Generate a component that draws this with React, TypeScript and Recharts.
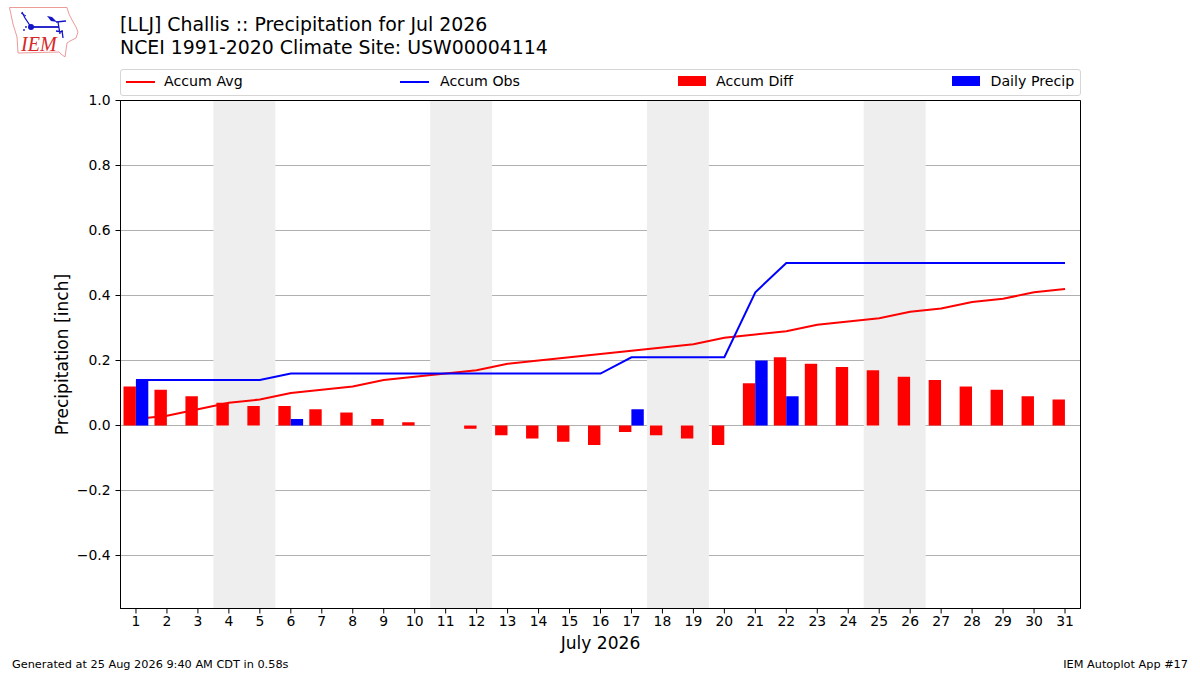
import React from "react";
import {
  ComposedChart, Line, Bar, XAxis, YAxis, CartesianGrid, ReferenceArea, Label,
} from "recharts";

const days = [1,2,3,4,5,6,7,8,9,10,11,12,13,14,15,16,17,18,19,20,21,22,23,24,25,26,27,28,29,30,31];
const accumAvg = [0.02,0.03,0.05,0.07,0.08,0.10,0.11,0.12,0.14,0.15,0.16,0.17,0.19,0.20,0.21,0.22,0.23,0.24,0.25,0.27,0.28,0.29,0.31,0.32,0.33,0.35,0.36,0.38,0.39,0.41,0.42];
const accumObs = [0.14,0.14,0.14,0.14,0.14,0.16,0.16,0.16,0.16,0.16,0.16,0.16,0.16,0.16,0.16,0.16,0.21,0.21,0.21,0.21,0.41,0.50,0.50,0.50,0.50,0.50,0.50,0.50,0.50,0.50,0.50];
const accumDiff = [0.12,0.11,0.09,0.07,0.06,0.06,0.05,0.04,0.02,0.01,0,-0.01,-0.03,-0.04,-0.05,-0.06,-0.02,-0.03,-0.04,-0.06,0.13,0.21,0.19,0.18,0.17,0.15,0.14,0.12,0.11,0.09,0.08];
const dailyPrecip = [0.14,0,0,0,0,0.02,0,0,0,0,0,0,0,0,0,0,0.05,0,0,0,0.20,0.09,0,0,0,0,0,0,0,0,0];
const weekends = [[3.5,5.5],[10.5,12.5],[17.5,19.5],[24.5,26.5]];
const yTicks = [-0.4,-0.2,0,0.2,0.4,0.6,0.8,1.0];
const yMin = -0.563;
const yMax = 1.0;
const xMin = 0.5;
const xMax = 31.5;
const titleLines = ["[LLJ] Challis :: Precipitation for Jul 2026", "NCEI 1991-2020 Climate Site: USW00004114"];
const footerLeft = "Generated at 25 Aug 2026 9:40 AM CDT in 0.58s";
const footerRight = "IEM Autoplot App #17";

const rows = days.map((day, i) => ({
  day,
  avg: accumAvg[i],
  obs: accumObs[i],
  diff: accumDiff[i],
  daily: dailyPrecip[i],
}));

const FONT = "'DejaVu Sans', sans-serif";

const abs = (left: number, top: number, extra: React.CSSProperties = {}): React.CSSProperties => ({
  position: "absolute", left, top, fontFamily: FONT, color: "#000", whiteSpace: "nowrap", ...extra,
});

function LegendBox() {
  const lineItem = (x: number, c: string, label: string, labelX: number) => (
    <React.Fragment key={label}>
      <div style={abs(x, 11, { width: 29, height: 2, background: c })} />
      <div style={abs(labelX, 2, { fontSize: 14.2, lineHeight: "18px" })}>{label}</div>
    </React.Fragment>
  );
  const patchItem = (x: number, c: string, label: string, labelX: number) => (
    <React.Fragment key={label}>
      <div style={abs(x, 6, { width: 28, height: 10, background: c })} />
      <div style={abs(labelX, 2, { fontSize: 14.2, lineHeight: "18px" })}>{label}</div>
    </React.Fragment>
  );
  return (
    <div style={{ position: "absolute", left: 120, top: 69, width: 959, height: 25, border: "1px solid #d5d5d5", borderRadius: 3, background: "#fff" }}>
      {lineItem(5, "#ff0000", "Accum Avg", 43)}
      {lineItem(279, "#0000ff", "Accum Obs", 319)}
      {patchItem(557, "#ff0000", "Accum Diff", 595)}
      {patchItem(831, "#0000ff", "Daily Precip", 869.5)}
    </div>
  );
}

function Logo() {
  return (
    <svg width={90} height={65} style={{ position: "absolute", left: 0, top: 0 }}>
      <path d="M9.5 7.5 L67 7.5 L69 14 L72 20 L76 27 L78 32 L76 38 L70 41 L67 43 L66 50 L65 57 L61 54 L59 52 L18 53 L17 37 L13 24 Z" fill="none" stroke="#ec9a9a" strokeWidth={1} />
      <path d="M22 12 L25 18 L31 27" stroke="#1414c8" strokeWidth={1.3} fill="none" />
      <path d="M21 13 L26 16" stroke="#1414c8" strokeWidth={1} fill="none" />
      <path d="M31 27 L59 27" stroke="#1414c8" strokeWidth={1.8} fill="none" />
      <path d="M47 16 L52 17 L57 22 L51 21 Z" fill="#1414c8" />
      <path d="M56 22 L66 21" stroke="#1414c8" strokeWidth={1.3} fill="none" />
      <path d="M58 22 L60 34 M56 31 L63 32 M62 30 L63 38" stroke="#1414c8" strokeWidth={1.3} fill="none" />
      <circle cx={31} cy={27} r={3} fill="#1414c8" />
      <circle cx={24} cy={30} r={0.9} fill="#1414c8" />
      <circle cx={26} cy={27} r={0.9} fill="#1414c8" />
      <text x={21} y={51} fontFamily="'Liberation Serif', serif" fontStyle="italic" fontSize={20} fill="#d62828">IEM</text>
    </svg>
  );
}

export default function App() {
  return (
    <div style={{ position: "absolute", left: 0, top: 0, width: 1200, height: 675, background: "#fff", overflow: "hidden" }}>
      <ComposedChart
        width={1200}
        height={675}
        data={rows}
        margin={{ top: 100.5, right: 119.5, bottom: 6.5, left: 60.5 }}
        barGap={0}
      >
        {weekends.map(([a, b]) => (
          <ReferenceArea key={a} x1={a} x2={b} y1={yMin} y2={yMax} fill="#eeeeee" fillOpacity={1} stroke="none" />
        ))}
        <CartesianGrid vertical={false} stroke="#b0b0b0" strokeWidth={1} />
        <XAxis
          dataKey="day"
          type="number"
          domain={[xMin, xMax]}
          ticks={days}
          interval={0}
          allowDataOverflow
          tickSize={5}
          tick={{ fontFamily: FONT, fontSize: 13.9, fill: "#000" }}
          tickLine={{ stroke: "#000" }}
          axisLine={{ stroke: "#000" }}
          height={60}
          tickMargin={3}
        >
          <Label value="July 2026" position="insideBottom" offset={20} style={{ fontFamily: FONT, fontSize: 17.1, fill: "#000" }} />
        </XAxis>
        <YAxis
          type="number"
          domain={[yMin, yMax]}
          ticks={yTicks}
          interval={0}
          allowDataOverflow
          width={60}
          tickSize={5}
          tickMargin={5}
          tickFormatter={(v: number) => (v < 0 ? "\u2212" : "") + Math.abs(v).toFixed(1)}
          tick={{ fontFamily: FONT, fontSize: 13.9, fill: "#000" }}
          tickLine={{ stroke: "#000" }}
          axisLine={{ stroke: "#000" }}
        >
          <Label value="Precipitation [inch]" angle={-90} position="insideLeft" offset={1} style={{ fontFamily: FONT, fontSize: 17.1, fill: "#000", textAnchor: "middle" }} />
        </YAxis>
        <Line dataKey="avg" name="Accum Avg" stroke="#ff0000" strokeWidth={2} dot={false} activeDot={false} type="linear" isAnimationActive={false} zIndex={250} />
        <Line dataKey="obs" name="Accum Obs" stroke="#0000ff" strokeWidth={2} dot={false} activeDot={false} type="linear" isAnimationActive={false} zIndex={250} />
        <Bar dataKey="diff" name="Accum Diff" fill="#ff0000" barSize={12.4} isAnimationActive={false} />
        <Bar dataKey="daily" name="Daily Precip" fill="#0000ff" barSize={12.4} isAnimationActive={false} />
        <ReferenceArea x1={xMin} x2={xMax} y1={yMin} y2={yMax} fill="none" stroke="#000" strokeWidth={1} />
      </ComposedChart>
      <Logo />
      <div style={abs(120, 13, { fontSize: 18.9, lineHeight: "23px" })}>
        {titleLines.map((t) => <div key={t}>{t}</div>)}
      </div>
      <LegendBox />
      <div style={abs(12, 658, { fontSize: 11.3, lineHeight: "14px" })}>{footerLeft}</div>
      <div style={abs(0, 658, { left: "auto", right: 12, fontSize: 11.3, lineHeight: "14px" })}>{footerRight}</div>
    </div>
  );
}
